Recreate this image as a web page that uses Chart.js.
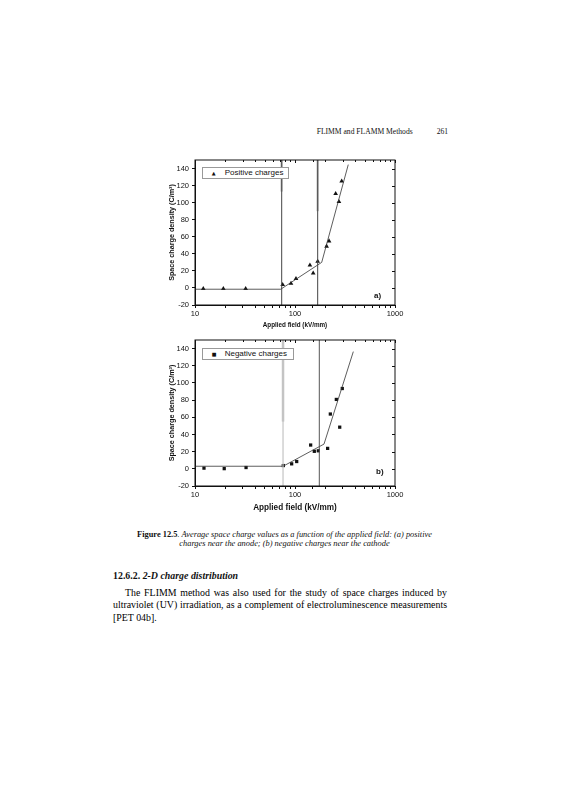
<!DOCTYPE html>
<html>
<head>
<meta charset="utf-8">
<script src="https://cdn.jsdelivr.net/npm/chart.js@4"></script>
<style>
  body { margin: 0; background: #fff; width: 565px; height: 800px; position: relative; overflow: hidden; }
  .abs { position: absolute; white-space: nowrap; color: #111; }
  .serif { font-family: "Liberation Serif", "Times New Roman", serif; }
  .sans { font-family: "Liberation Sans", Arial, sans-serif; }
  canvas { position: absolute; }
  .legend { position: absolute; border: 1px solid #999; background: #fff; font-family: "Liberation Sans", Arial, sans-serif; font-size: 8px; line-height: 10px; color: #111; }
  .legend .mk { position: absolute; font-family: "DejaVu Sans", sans-serif; font-size: 5px; line-height: 10px; }
  .legend .tx { position: absolute; }
  .pline { position: absolute; left: 113px; width: 334px; font-size: 9.9px; line-height: 12.6px; white-space: nowrap; }
</style>
</head>
<body>

<div class="abs serif" style="left:316.7px; top:126.5px; font-size:7.6px; line-height:9px;">FLIMM and FLAMM Methods</div>
<div class="abs serif" style="left:436.7px; top:126.5px; font-size:7.6px; line-height:9px;">261</div>

<canvas id="chartA" width="245" height="180" style="left:165px; top:150px; width:245px; height:180px;"></canvas>
<canvas id="chartB" width="245" height="183" style="left:165px; top:330px; width:245px; height:183px;"></canvas>

<div class="legend" style="left:201.7px; top:166.5px; width:85.6px; height:10.6px;">
  <span class="mk" style="left:9px; top:0px;">&#9650;</span>
  <span class="tx" style="left:22px; top:0px;">Positive charges</span>
</div>
<div class="legend" style="left:201.7px; top:347.5px; width:90.6px; height:10.6px;">
  <span class="mk" style="left:9px; top:0px;">&#9632;</span>
  <span class="tx" style="left:22px; top:0px;">Negative charges</span>
</div>

<div class="abs sans" style="left:374px; top:291px; font-size:8px; line-height:10px; font-weight:bold;">a)</div>
<div class="abs sans" style="left:376px; top:467px; font-size:8px; line-height:10px; font-weight:bold;">b)</div>

<div class="abs serif" style="left:114.5px; top:529.8px; width:340px; text-align:center; font-size:8.4px; line-height:9.2px;">
  <b>Figure 12.5</b>. <i>Average space charge values as a function of the applied field: (a) positive</i><br>
  <i>charges near the anode; (b) negative charges near the cathode</i>
</div>

<div class="abs serif" style="left:113px; top:570px; font-size:9.9px; line-height:12px; font-weight:bold;">12.6.2. <i>2-D charge distribution</i></div>

<div class="pline serif" style="top:586.7px; text-align:justify; text-align-last:justify; text-indent:12px;">The FLIMM method was also used for the study of space charges induced by</div>
<div class="pline serif" style="top:599.3px; text-align:justify; text-align-last:justify;">ultraviolet (UV) irradiation, as a complement of electroluminescence measurements</div>
<div class="pline serif" style="top:611.9px;">[PET 04b].</div>

<script>
// (a) positive charges near the anode
const posField  = [12.1, 19.2, 32.1, 75.3, 91.2, 102.3, 141, 152, 168.6, 207, 219, 255, 275, 293];
const posCharge = [-0.8, -0.8, -0.8, 3.9, 5.4, 10.9, 26.7, 17.4, 31, 48.8, 55, 110.5, 101.2, 125.2];
const posFitX = [10, 72, 185, 341];
const posFitY = [-1.5, -1.5, 30, 144.6];
const posMarkX = [73.6, 168.6];
const posMarkTop = [113, 90];

// (b) negative charges near the cathode
const negField  = [12.3, 19.6, 32.4, 76.4, 92.6, 104, 143.4, 156, 171, 212, 225.6, 259, 280, 297];
const negCharge = [0.8, 0.2, 1.5, 3.8, 5.8, 8.5, 27.7, 20.4, 21, 23.8, 63.8, 80.8, 48.5, 93.5];
const negFitX = [10, 76, 195, 383];
const negFitY = [3, 3, 28.8, 136.5];
const negMarkX = [75.9, 175];
const negMarkTop = [55, 150];

const xTicks = [10, 100, 1000];
const yMin = -20, yMax = 150;

function toPoints(xs, ys) {
  return xs.map((x, i) => ({ x: x, y: ys[i] }));
}

// frame with inward ticks on top and right sides
const framePlugin = {
  id: 'frame',
  afterDatasetsDraw(chart) {
    const { ctx, chartArea: a, scales } = chart;
    ctx.save();
    ctx.strokeStyle = '#111';
    ctx.lineWidth = 1;
    ctx.strokeRect(a.left, a.top, a.right - a.left, a.bottom - a.top);
    ctx.beginPath();
    scales.x.ticks.forEach(t => {
      const px = Math.round(scales.x.getPixelForValue(t.value)) + 0.5;
      const major = xTicks.includes(t.value);
      ctx.moveTo(px, a.top);
      ctx.lineTo(px, a.top + (major ? 3 : 2));
    });
    scales.y.ticks.forEach(t => {
      const py = Math.round(scales.y.getPixelForValue(t.value)) + 0.5;
      const major = t.value % 20 === 0;
      ctx.moveTo(a.right, py);
      ctx.lineTo(a.right - (major ? 3 : 2), py);
    });
    ctx.stroke();
    ctx.restore();
  }
};

function makeChart(id, opts) {
  const marks = [];
  opts.markX.forEach((x, i) => {
    marks.push({
      data: toPoints([x, x], [yMin, yMax]),
      showLine: true, pointRadius: 0, borderColor: opts.darkColor[i], borderWidth: opts.darkWidth[i]
    });
    marks.push({
      data: toPoints([x, x], [opts.markTop[i], yMax]),
      showLine: true, pointRadius: 0, borderColor: '#c4c4c4', borderWidth: 2.5
    });
  });

  new Chart(document.getElementById(id).getContext('2d'), {
    type: 'scatter',
    data: {
      datasets: [
        ...marks,
        {
          data: toPoints(opts.fitX, opts.fitY),
          showLine: true, pointRadius: 0, borderColor: '#333', borderWidth: 0.8
        },
        {
          data: toPoints(opts.x, opts.y),
          pointStyle: opts.pointStyle, pointRadius: opts.pointRadius,
          backgroundColor: '#111', borderColor: '#111', borderWidth: 0
        }
      ]
    },
    options: {
      responsive: false,
      animation: false,
      events: [],
      layout: { padding: { top: 10, right: 15, left: 0, bottom: 0 } },
      plugins: { legend: { display: false }, tooltip: { enabled: false } },
      scales: {
        x: {
          type: 'logarithmic',
          min: 10, max: 1000,
          afterFit: s => { s.height = opts.xHeight; },
          grid: { display: true, drawOnChartArea: false, drawTicks: true, tickLength: 3, color: '#111', tickColor: '#111' },
          border: { display: true, color: '#111', width: 1 },
          ticks: {
            autoSkip: false, maxRotation: 0, padding: 1,
            color: '#111',
            font: { family: 'Liberation Sans', size: 7.5 },
            callback: v => xTicks.includes(v) ? String(v) : ''
          },
          title: {
            display: true, text: 'Applied field (kV/mm)', color: '#111',
            font: { family: 'Liberation Sans', size: opts.xTitleSize, weight: 'bold' },
            padding: { top: 0, bottom: opts.xTitlePad }
          }
        },
        y: {
          min: yMin, max: yMax,
          afterFit: s => { s.width = 30; },
          grid: { display: true, drawOnChartArea: false, drawTicks: true, tickLength: 3, color: '#111', tickColor: '#111' },
          border: { display: true, color: '#111', width: 1 },
          ticks: {
            stepSize: 10, padding: 3, color: '#111',
            font: { family: 'Liberation Sans', size: 7.5 },
            callback: v => (v % 20 === 0 ? String(v) : '')
          },
          title: {
            display: true, text: 'Space charge density (C/m³)', color: '#111',
            font: { family: 'Liberation Sans', size: 7.2, weight: 'bold' },
            padding: { top: 3.2, bottom: 0 }
          }
        }
      }
    },
    plugins: [framePlugin]
  });
}

makeChart('chartA', {
  x: posField, y: posCharge, fitX: posFitX, fitY: posFitY,
  markX: posMarkX, markTop: posMarkTop,
  darkColor: ['#444', '#444'], darkWidth: [1, 1],
  pointStyle: 'triangle', pointRadius: 2.7,
  xHeight: 25, xTitleSize: 6.3, xTitlePad: 1.2
});

makeChart('chartB', {
  x: negField, y: negCharge, fitX: negFitX, fitY: negFitY,
  markX: negMarkX, markTop: negMarkTop,
  darkColor: ['#c4c4c4', '#555'], darkWidth: [1.2, 1],
  pointStyle: 'rect', pointRadius: 2.3,
  xHeight: 27, xTitleSize: 8.2, xTitlePad: 0.7
});
</script>
</body>
</html>
